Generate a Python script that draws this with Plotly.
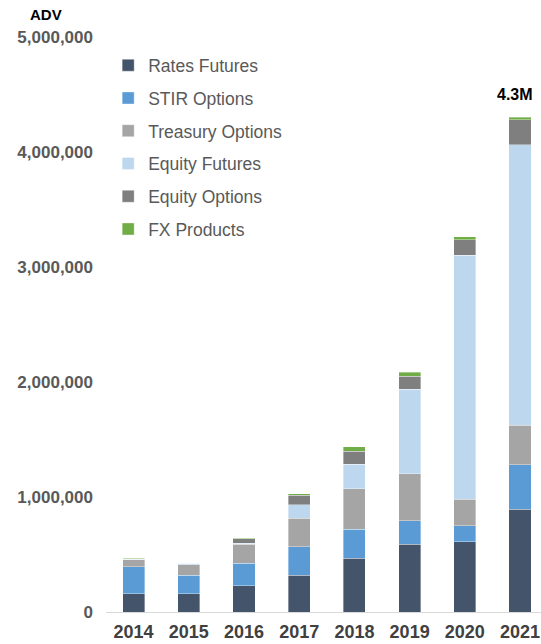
import plotly.graph_objects as go

years = ["2014", "2015", "2016", "2017", "2018", "2019", "2020", "2021"]
rates_futures = [157000, 157000, 229000, 319000, 467000, 588000, 611000, 893000]
stir_options = [237000, 162000, 194000, 249000, 252000, 206000, 139000, 388000]
treasury_options = [62000, 92000, 165000, 247000, 353000, 409000, 230000, 342000]
equity_futures = [3000, 12000, 9000, 118000, 212000, 733000, 2121000, 2438000]
equity_options = [4000, 3000, 41000, 82000, 113000, 116000, 134000, 220000]
fx_products = [5000, 3000, 5000, 14000, 38000, 32000, 26000, 21000]

series = [
    ("Rates Futures", rates_futures, "#44546A"),
    ("STIR Options", stir_options, "#5B9BD5"),
    ("Treasury Options", treasury_options, "#A5A5A5"),
    ("Equity Futures", equity_futures, "#BDD7EE"),
    ("Equity Options", equity_options, "#7F7F7F"),
    ("FX Products", fx_products, "#70AD47"),
]

FONT = "Liberation Sans, Arial, sans-serif"

fig = go.Figure()
for name, vals, color in series:
    fig.add_trace(go.Bar(
        x=years, y=vals, name=name, legendgroup=name,
        marker=dict(color=color, line=dict(color="rgba(255,255,255,0.6)", width=0.6)),
        width=0.4,
    ))

totals = [sum(v) for v in zip(*[s[1] for s in series])]
last_idx = len(years) - 1

fig.update_layout(
    width=541, height=644,
    margin=dict(l=106, r=0, t=37, b=32, autoexpand=False),
    barmode="stack",
    plot_bgcolor="white", paper_bgcolor="white",
    font=dict(family=FONT),
    showlegend=True,
    legend=dict(
        x=0.005, xanchor="left", y=0.982, yanchor="top",
        traceorder="grouped", tracegroupgap=7,
        font=dict(family=FONT, size=17.5, color="#595959"),
        bgcolor="rgba(0,0,0,0)", borderwidth=0,
    ),
    xaxis=dict(
        type="category", range=[-0.5, 7.38],
        showline=True, linecolor="#D9D9D9", linewidth=1,
        showgrid=False, ticks="", zeroline=False,
        ticklabelstandoff=3,
        tickfont=dict(family=FONT, size=18, color="#404040", weight="bold"),
        automargin=False,
    ),
    yaxis=dict(
        range=[0, 5000000], tickvals=[0, 1000000, 2000000, 3000000, 4000000, 5000000],
        tickformat=",", showgrid=False, zeroline=False, showline=False, ticks="",
        ticklabelstandoff=12,
        tickfont=dict(family=FONT, size=17, color="#595959", weight="bold"),
        automargin=False,
    ),
    annotations=[
        dict(text="<b>ADV</b>", xref="paper", yref="paper", x=-0.138, y=1.0, yanchor="middle",
             xanchor="center", yshift=23, showarrow=False,
             font=dict(family=FONT, size=15, color="black")),
        dict(text="<b>4.3M</b>", xref="x", yref="y", x=last_idx, y=totals[-1],
             xanchor="center", yanchor="bottom", yshift=12, xshift=-5, showarrow=False,
             font=dict(family=FONT, size=16, color="black")),
    ],
)

fig.write_html("out.html")
